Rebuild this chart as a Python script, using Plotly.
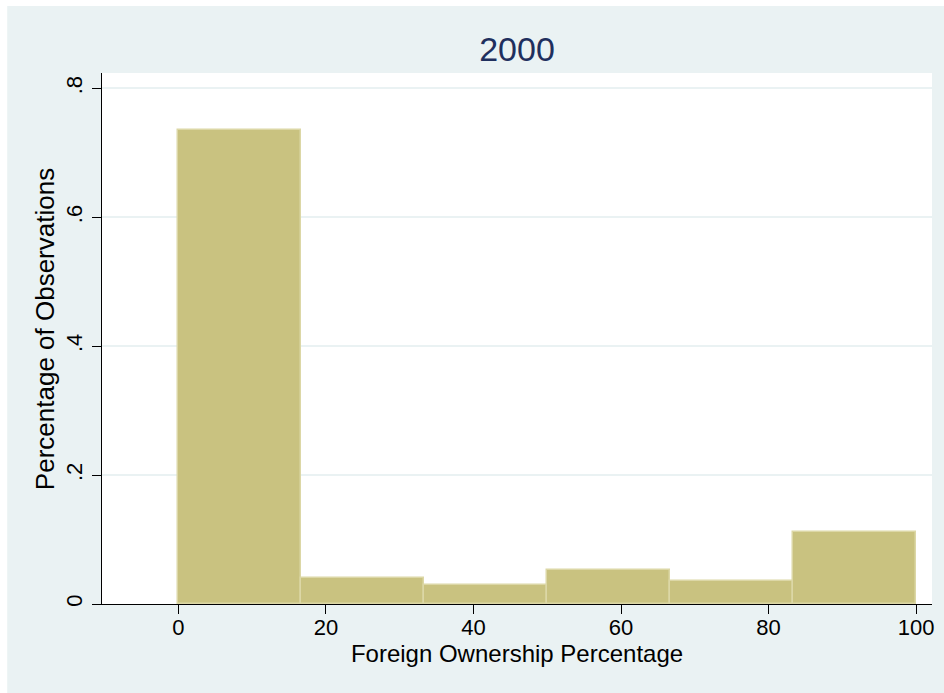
import plotly.graph_objects as go

# Data
bin_edges = [0, 100/6, 200/6, 300/6, 400/6, 500/6, 100]
shares = [0.7353, 0.0403, 0.0295, 0.0521, 0.0357, 0.1116]
x_ticks = [0, 20, 40, 60, 80, 100]
y_ticks = [0, 0.2, 0.4, 0.6, 0.8]
y_tick_labels = ["0", ".2", ".4", ".6", ".8"]
title_text = "2000"
x_title = "Foreign Ownership Percentage"
y_title = "Percentage of Observations"

centers = [(bin_edges[i] + bin_edges[i + 1]) / 2 for i in range(len(shares))]
widths = [bin_edges[i + 1] - bin_edges[i] for i in range(len(shares))]

FONT = "Liberation Sans, Arial, Helvetica, sans-serif"
OUTER = "#EAF2F3"

fig = go.Figure()
fig.add_trace(go.Bar(
    x=centers, y=shares, width=widths,
    marker=dict(color="#C9C280", line=dict(color="#DCD7A6", width=1.5)),
    hoverinfo="x+y",
))

W, H = 944, 693
L, R, T, B = 102, 10, 73, 89
pw = W - L - R
ph = H - T - B


def px_x(px):
    return (px - L) / pw


def px_y(py):
    return (H - B - py) / ph


fig.add_shape(type="rect", xref="paper", yref="paper",
              x0=px_x(7), x1=px_x(W + 10), y0=px_y(H + 10), y1=px_y(6),
              fillcolor=OUTER, line=dict(width=0), layer="below")
fig.add_shape(type="rect", xref="paper", yref="paper",
              x0=0, x1=1, y0=0, y1=1,
              fillcolor="white", line=dict(width=0), layer="below")

fig.update_layout(
    width=W, height=H,
    margin=dict(l=L, r=R, t=T, b=B),
    paper_bgcolor="white",
    plot_bgcolor="rgba(0,0,0,0)",
    showlegend=False,
    bargap=0,
    font=dict(family=FONT, color="black", size=22),
    title=dict(text=title_text, x=0.5, xref="paper", xanchor="center",
               y=1 - 49 / H, yanchor="middle", yref="container",
               font=dict(size=34, color="#1F2F5E", family=FONT)),
    annotations=[dict(
        text=y_title, textangle=-90, showarrow=False,
        xref="paper", yref="paper",
        x=px_x(45), y=px_y(329),
        xanchor="center", yanchor="middle",
        font=dict(size=26, family=FONT, color="black"),
    )],
)
fig.update_xaxes(
    range=[-10.35, 102.15],
    tickvals=x_ticks, ticks="outside", ticklen=9, tickwidth=1, tickcolor="black",
    showline=True, linecolor="black", linewidth=1,
    showgrid=False, zeroline=False,
    tickfont=dict(size=22), ticklabelstandoff=-5,
    title=dict(text=x_title, font=dict(size=24), standoff=2),
)
fig.update_yaxes(
    range=[0, 0.824],
    tickvals=y_ticks, ticktext=y_tick_labels, tickangle=-90,
    ticks="outside", ticklen=9, tickwidth=1, tickcolor="black",
    showline=True, linecolor="black", linewidth=1,
    showgrid=True, gridcolor=OUTER, gridwidth=1.5,
    zeroline=False,
    tickfont=dict(size=22), ticklabelstandoff=1,
)

page_js = (
    "document.documentElement.style.overflow='hidden';"
    "document.body.style.overflow='hidden';"
    "document.body.style.margin='0';"
)
fig.write_html("out.html", post_script=page_js,
               config={"displayModeBar": False})
